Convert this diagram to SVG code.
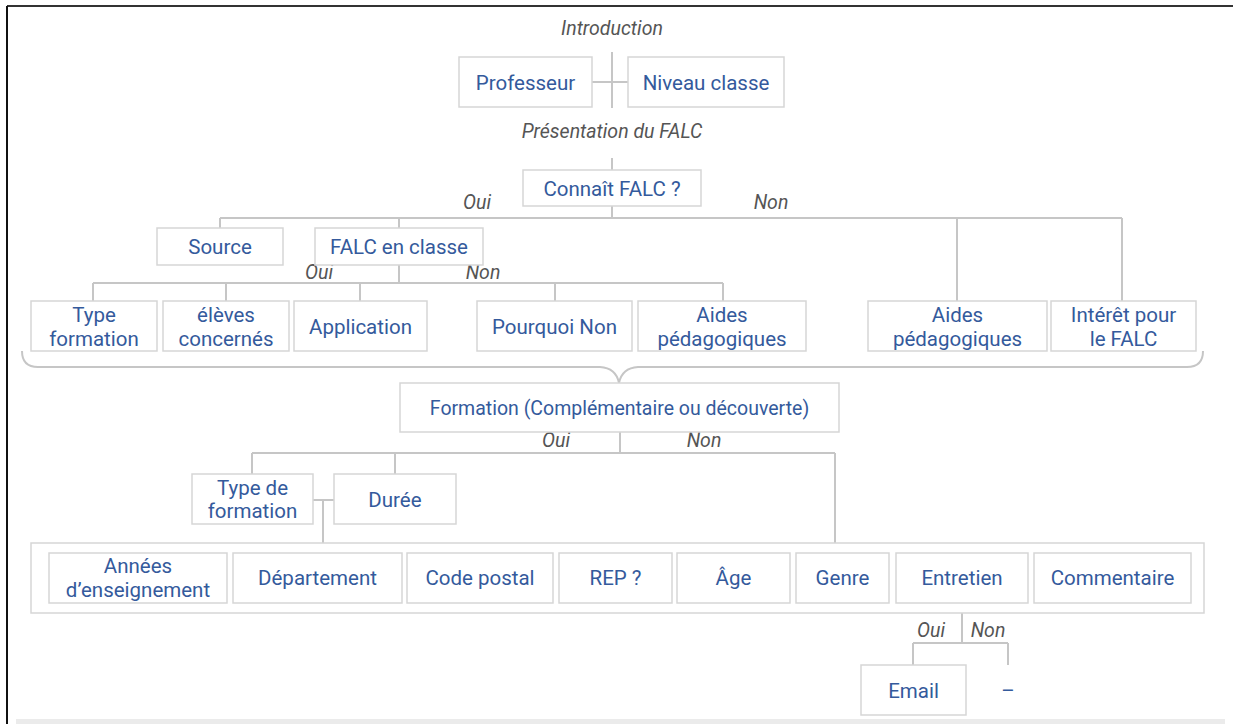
<svg xmlns="http://www.w3.org/2000/svg" width="1233" height="724" viewBox="0 0 1233 724">
<style>
.b{fill:#fff;stroke:#d6d6d6;stroke-width:1.5}
.t{font-family:Roboto,"Liberation Sans",sans-serif;font-size:20.5px;fill:#345a9c;text-anchor:middle}
.l{font-family:Roboto,"Liberation Sans",sans-serif;font-size:19.5px;font-style:italic;fill:#555;text-anchor:middle}
.c{fill:none;stroke:#c6c6c6;stroke-width:2}
</style>
<rect x="0" y="0" width="1233" height="724" fill="#fff"/>
<line x1="7" y1="6" x2="1233" y2="6" stroke="#333" stroke-width="2"/>
<line x1="7" y1="6" x2="7" y2="724" stroke="#111" stroke-width="2"/>
<rect x="16" y="719" width="1209" height="5" fill="#ebebeb"/>
<g id="connectors" class="c">
<path d="M612,52 V108 M592,82 H628"/>
<path d="M612,158 V170 M612,206 V218 M220,218 H1122 M220,218 V228 M399,218 V228 M957,218 V301 M1122,218 V301"/>
<path d="M399,265 V283 M93,283 H723 M93,283 V301 M226,283 V301 M360,283 V301 M555,283 V301 M723,283 V301"/>
<path d="M22,351 Q22,367 38,367 H600 Q616,368 619,383 M1203,351 Q1203,367 1187,367 H638 Q622,368 619,383"/>
<path d="M620,432 V453 M252,453 H835 M252,453 V474 M395,453 V474 M835,453 V543"/>
<path d="M313,500 H334 M323,500 V543"/>
<path d="M962,603 V643 M913,643 H1008 M913,643 V665 M1008,643 V665"/>
</g>
<text class="l" x="612" y="35">Introduction</text>
<text class="l" x="612" y="138">Présentation du FALC</text>
<text class="l" x="477" y="209">Oui</text>
<text class="l" x="771" y="209">Non</text>
<text class="l" x="319" y="279">Oui</text>
<text class="l" x="483" y="279">Non</text>
<text class="l" x="556" y="447">Oui</text>
<text class="l" x="704" y="447">Non</text>
<text class="l" x="931" y="637">Oui</text>
<text class="l" x="988" y="637">Non</text>
<g id="professeur"><rect class="b" x="459" y="57" width="133" height="50"/><text class="t" x="525.5" y="90">Professeur</text></g>
<g id="niveau-classe"><rect class="b" x="628" y="57" width="156" height="50"/><text class="t" x="706" y="90">Niveau classe</text></g>
<g id="connait-falc"><rect class="b" x="523" y="170" width="178" height="36"/><text class="t" x="612" y="196">Connaît FALC ?</text></g>
<g id="source"><rect class="b" x="157" y="228" width="126" height="37"/><text class="t" x="220" y="254">Source</text></g>
<g id="falc-en-classe"><rect class="b" x="315" y="228" width="168" height="37"/><text class="t" x="399" y="254">FALC en classe</text></g>
<g id="type-formation"><rect class="b" x="31" y="301" width="126" height="50"/><text class="t" x="94" y="322">Type</text><text class="t" x="94" y="346">formation</text></g>
<g id="eleves-concernes"><rect class="b" x="163" y="301" width="126" height="50"/><text class="t" x="226" y="322">élèves</text><text class="t" x="226" y="346">concernés</text></g>
<g id="application"><rect class="b" x="294" y="301" width="133" height="50"/><text class="t" x="360.5" y="334">Application</text></g>
<g id="pourquoi-non"><rect class="b" x="477" y="301" width="155" height="50"/><text class="t" x="554.5" y="334">Pourquoi Non</text></g>
<g id="aides-pedagogiques-1"><rect class="b" x="638" y="301" width="168" height="50"/><text class="t" x="722" y="322">Aides</text><text class="t" x="722" y="346">pédagogiques</text></g>
<g id="aides-pedagogiques-2"><rect class="b" x="868" y="301" width="179" height="50"/><text class="t" x="957.5" y="322">Aides</text><text class="t" x="957.5" y="346">pédagogiques</text></g>
<g id="interet-falc"><rect class="b" x="1051" y="301" width="145" height="50"/><text class="t" x="1123.5" y="322">Intérêt pour</text><text class="t" x="1123.5" y="346">le FALC</text></g>
<g id="formation"><rect class="b" x="400" y="383" width="439" height="49"/><text class="t" x="619.5" y="415" style="font-size:19.5px">Formation (Complémentaire ou découverte)</text></g>
<g id="type-de-formation"><rect class="b" x="192" y="474" width="121" height="50"/><text class="t" x="252.5" y="495">Type de</text><text class="t" x="252.5" y="518">formation</text></g>
<g id="duree"><rect class="b" x="334" y="474" width="122" height="50"/><text class="t" x="395" y="507">Durée</text></g>
<g id="profil"><rect class="b" x="31" y="543" width="1173" height="70"/></g>
<g id="annees"><rect class="b" x="49" y="553" width="178" height="50"/><text class="t" x="138" y="573">Années</text><text class="t" x="138" y="597">d’enseignement</text></g>
<g id="departement"><rect class="b" x="233" y="553" width="169" height="50"/><text class="t" x="317.5" y="585">Département</text></g>
<g id="code-postal"><rect class="b" x="407" y="553" width="146" height="50"/><text class="t" x="480" y="585">Code postal</text></g>
<g id="rep"><rect class="b" x="559" y="553" width="113" height="50"/><text class="t" x="615.5" y="585">REP ?</text></g>
<g id="age"><rect class="b" x="677" y="553" width="113" height="50"/><text class="t" x="733.5" y="585">Âge</text></g>
<g id="genre"><rect class="b" x="796" y="553" width="93" height="50"/><text class="t" x="842.5" y="585">Genre</text></g>
<g id="entretien"><rect class="b" x="896" y="553" width="132" height="50"/><text class="t" x="962" y="585">Entretien</text></g>
<g id="commentaire"><rect class="b" x="1034" y="553" width="157" height="50"/><text class="t" x="1112.5" y="585">Commentaire</text></g>
<g id="email"><rect class="b" x="861" y="665" width="105" height="50"/><text class="t" x="913.5" y="698">Email</text></g>
<g id="non-dash"><text class="t" x="1008" y="698">–</text></g>
</svg>
